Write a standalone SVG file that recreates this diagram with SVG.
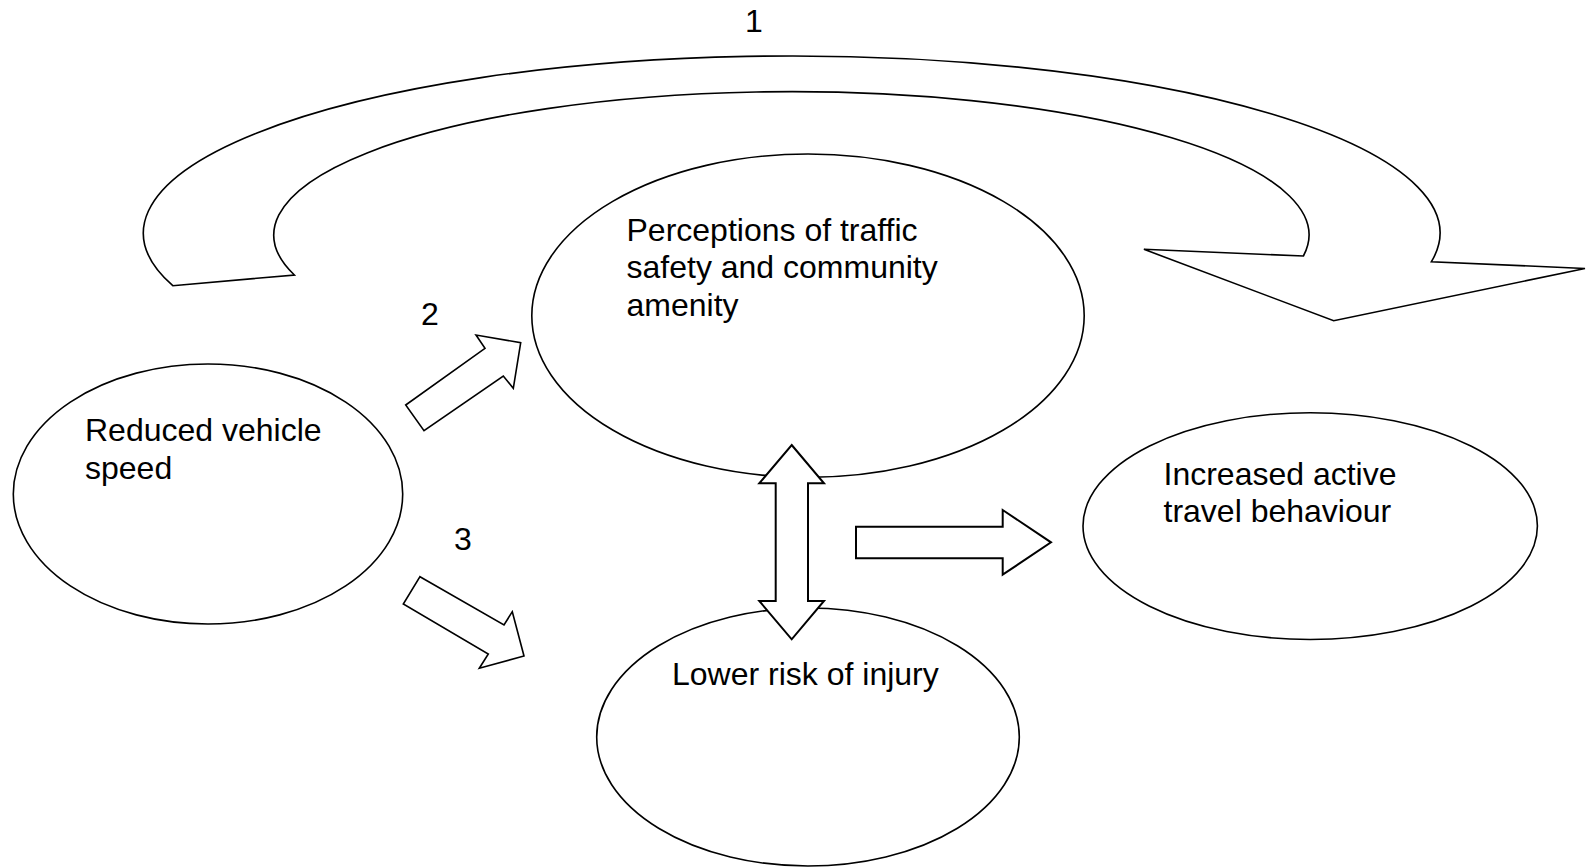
<svg xmlns="http://www.w3.org/2000/svg" width="1587" height="867" viewBox="0 0 1587 867">
<style>
.shape{fill:#fff;stroke:#000;stroke-width:1.6;stroke-linejoin:miter}
.blk{fill:#fff;stroke:#000;stroke-width:2}
.lbl{font-family:"Liberation Sans",Arial,sans-serif;font-size:32px;fill:#000}
</style>
<rect width="1587" height="867" fill="#fff"/>
<g id="node-reduced-speed">
<ellipse class="shape" cx="208" cy="494" rx="194.7" ry="130"/>
<text class="lbl"><tspan x="85" y="440.7">Reduced vehicle</tspan><tspan x="85" y="479.2">speed</tspan></text>
</g>
<g id="node-perceptions">
<ellipse class="shape" cx="808" cy="315.7" rx="276.2" ry="161.7"/>
<text class="lbl"><tspan x="626.5" y="240.5">Perceptions of traffic</tspan><tspan x="626.5" y="278.3">safety and community</tspan><tspan x="626.5" y="316.1">amenity</tspan></text>
</g>
<g id="node-active-travel">
<ellipse class="shape" cx="1310.2" cy="526.1" rx="227.2" ry="113.4"/>
<text class="lbl"><tspan x="1163.5" y="484.5">Increased active</tspan><tspan x="1163.5" y="522.2">travel behaviour</tspan></text>
</g>
<g id="node-injury">
<ellipse class="shape" cx="808" cy="737" rx="211.3" ry="129"/>
<text class="lbl" x="672" y="685">Lower risk of injury</text>
</g>
<g id="connectors">
<path class="shape" d="M172.8,285.7 A648.3,177 0 1 1 1431.4,261.7 L1585,268.5 L1333.7,320.7 L1143.9,249.3 L1303.4,256 A517.6,143.3 0 1 0 294.4,275 Z"/>
<polygon class="shape" points="405.7,405 485,348.3 476,335 520.7,342.7 513.3,388.3 503.3,376 424,430.7"/>
<polygon class="shape" points="420,576.7 504,625 512.3,611.7 524,656 479.3,668.3 488.3,654 403.3,604"/>
<polygon class="blk" points="791.7,445 824,483.3 808,483.3 808,601 824,601 791.7,639.3 759.3,601 775.7,601 775.7,483.3 759.3,483.3"/>
<polygon class="blk" points="856,526.7 1002.7,526.7 1002.7,510 1051,542.3 1002.7,574.7 1002.7,558.3 856,558.3"/>
<text class="lbl" text-anchor="middle" x="754" y="32">1</text>
<text class="lbl" text-anchor="middle" x="430" y="325">2</text>
<text class="lbl" text-anchor="middle" x="463" y="550">3</text>
</g>
</svg>
